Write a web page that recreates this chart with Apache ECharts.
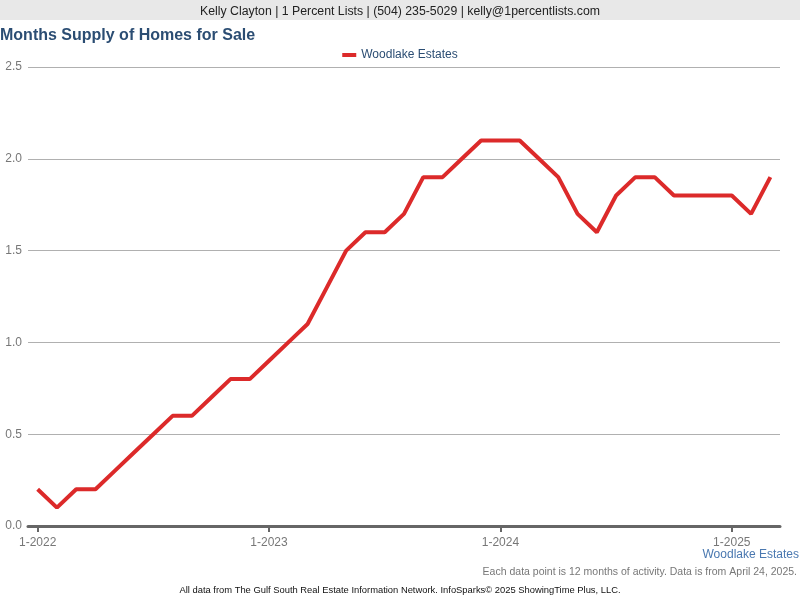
<!DOCTYPE html>
<html><head><meta charset="utf-8">
<script src="https://cdn.jsdelivr.net/npm/echarts@6/dist/echarts.min.js"></script>
<style>html,body{margin:0;padding:0;background:#fff}#c{width:800px;height:600px}</style>
</head><body><div id="c"></div>
<script>
const categories = [
 '1-2022','2-2022','3-2022','4-2022','5-2022','6-2022','7-2022','8-2022','9-2022','10-2022','11-2022','12-2022',
 '1-2023','2-2023','3-2023','4-2023','5-2023','6-2023','7-2023','8-2023','9-2023','10-2023','11-2023','12-2023',
 '1-2024','2-2024','3-2024','4-2024','5-2024','6-2024','7-2024','8-2024','9-2024','10-2024','11-2024','12-2024',
 '1-2025','2-2025','3-2025'
];
const woodlake = [
 0.2,0.1,0.2,0.2,0.3,0.4,0.5,0.6,0.6,0.7,0.8,0.8,
 0.9,1.0,1.1,1.3,1.5,1.6,1.6,1.7,1.9,1.9,2.0,2.1,
 2.1,2.1,2.0,1.9,1.7,1.6,1.8,1.9,1.9,1.8,1.8,1.8,
 1.8,1.7,1.9
];
const seriesName = 'Woodlake Estates';
const headerText = 'Kelly Clayton | 1 Percent Lists | (504) 235-5029 | kelly@1percentlists.com';
const titleText = 'Months Supply of Homes for Sale';
const noteText = 'Each data point is 12 months of activity. Data is from April 24, 2025.';
const footerText = 'All data from The Gulf South Real Estate Information Network. InfoSparks\u00A9 2025 ShowingTime Plus, LLC.';

const font = '"Liberation Sans", Arial, sans-serif';
const chart = echarts.init(document.getElementById('c'), null, {renderer:'canvas'});
chart.setOption({
  animation:false,
  textStyle:{fontFamily:font},
  graphic:[
    {type:'rect', shape:{x:0,y:0,width:800,height:20}, style:{fill:'#e8e8e8'}, z:-1}
  ],
  title:[
    {text:headerText, left:400, top:6, padding:0, textAlign:'center', textStyle:{fontSize:12.3, fontWeight:'normal', fontStyle:'normal', color:'#222', fontFamily:font}},
    {text:titleText, left:0, top:28, padding:0, textStyle:{fontSize:16, fontWeight:'bold', fontStyle:'normal', color:'#2b4d73', fontFamily:font}},
    {text:seriesName, right:1, top:549, padding:0, textStyle:{fontSize:12, fontWeight:'normal', color:'#4a78b0', fontFamily:font}},
    {text:noteText, right:3, top:567, padding:0, textStyle:{fontSize:10.5, fontWeight:'normal', color:'#777', fontFamily:font}},
    {text:footerText, left:400, top:586, padding:0, textAlign:'center', textStyle:{fontSize:9.4, fontWeight:'normal', color:'#111', fontFamily:font}}
  ],
  legend:{
    top:49, left:'center', padding:0,
    itemWidth:14, itemHeight:4, itemGap:10,
    icon:'rect',
    textStyle:{fontSize:12, color:'#2b4d73', fontFamily:font},
    data:[{name:seriesName, icon:'rect'}]
  },
  grid:{left:28, right:20, top:67, bottom:74, containLabel:false},
  xAxis:{
    type:'category', data:categories, boundaryGap:true,
    axisLine:{show:true, lineStyle:{color:'#666', width:3}},
    axisTick:{show:true, alignWithLabel:true, interval:11, length:6, lineStyle:{color:'#666', width:2}},
    axisLabel:{interval:11, color:'#777', fontSize:12, margin:11, fontFamily:font},
    splitLine:{show:false}
  },
  yAxis:{
    type:'value', min:0, max:2.5, interval:0.5,
    axisLine:{show:false}, axisTick:{show:false},
    axisLabel:{formatter:(v)=>v.toFixed(1), color:'#777', fontSize:12, margin:6, padding:[4,0,0,0], backgroundColor:'rgba(255,255,255,0)', fontFamily:font},
    splitLine:{lineStyle:{color:'#b0b0b0', width:1}}
  },
  series:[{
    name:seriesName, type:'line', data:woodlake,
    showSymbol:false, symbol:'none',
    lineStyle:{color:'#dc2a2a', width:4},
    itemStyle:{color:'#dc2a2a'},
    z:3
  }]
});
</script></body></html>
